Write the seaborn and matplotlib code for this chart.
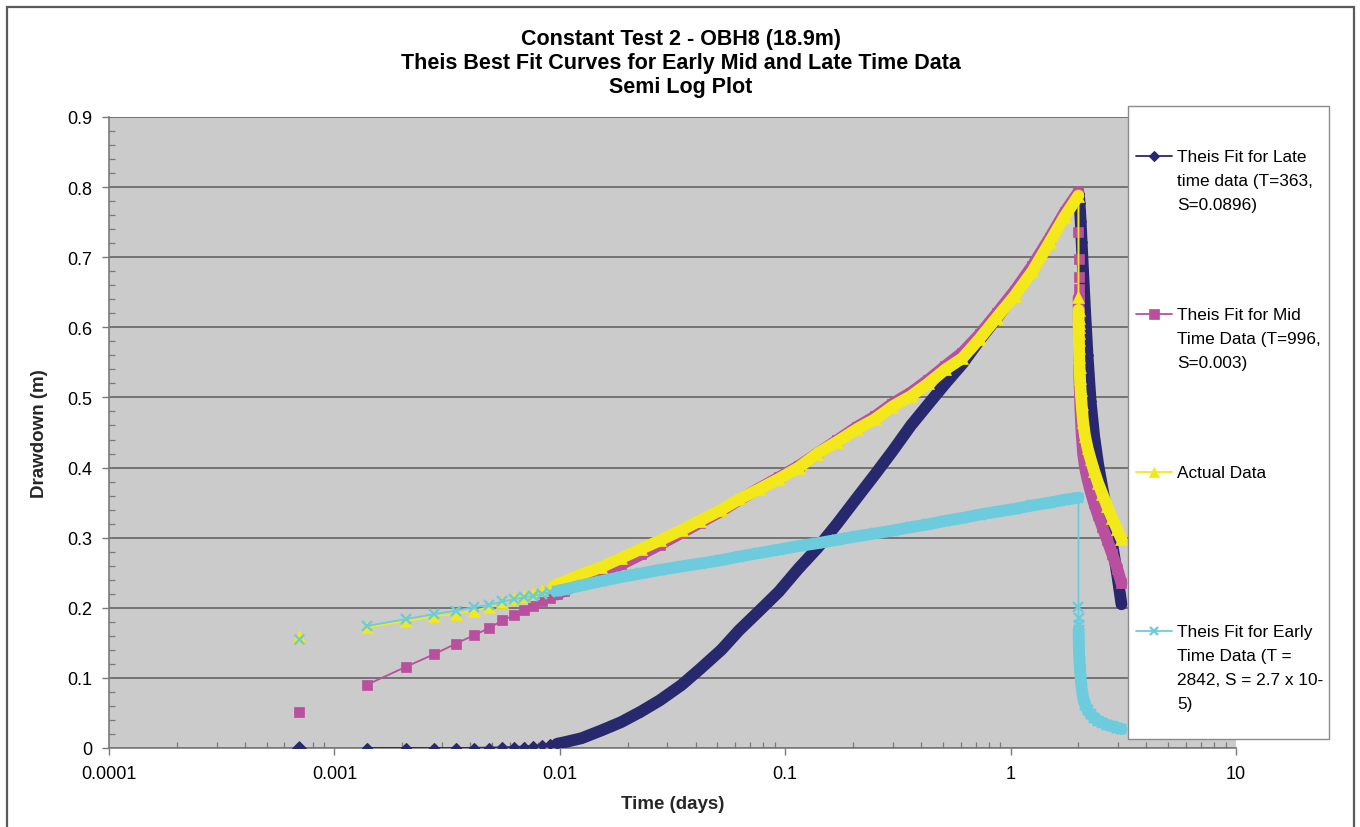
import numpy as np
import pandas as pd
import matplotlib
matplotlib.use("Agg")
import matplotlib.pyplot as plt
import matplotlib.ticker as mticker
from matplotlib.lines import Line2D
from matplotlib.patches import Rectangle
import seaborn as sns

# Elapsed time since pumping began (minutes). Pumping stopped at 2880 min (2 days).
pump_minutes = [1, 2, 3, 4, 5, 6, 7, 8, 9, 10, 11, 12, 13, 14, 15, 18, 22, 27, 33, 40,
                50, 60, 75, 90, 110, 135, 165, 200, 245, 300, 360, 430, 520, 620, 740,
                880, 1050, 1250, 1500, 1800, 2150, 2500, 2880]
recovery_minutes = [2881, 2882, 2883, 2884, 2885, 2887, 2890, 2895, 2902, 2912, 2925,
                    2945, 2975, 3020, 3080, 3160, 3260, 3380, 3520, 3680, 3860, 4060,
                    4280, 4470]

# Drawdown (m): Theis fit for late time data (T=363, S=0.0896)
late_pump = [0.000, 0.000, 0.000, 0.000, 0.000, 0.0003, 0.0006, 0.001, 0.0015, 0.002,
             0.003, 0.004, 0.005, 0.006, 0.008, 0.014, 0.025, 0.037, 0.052, 0.068,
             0.090, 0.112, 0.140, 0.168, 0.195, 0.223, 0.256, 0.285, 0.320, 0.357,
             0.390, 0.423, 0.460, 0.490, 0.520, 0.548, 0.582, 0.613, 0.648, 0.684,
             0.725, 0.761, 0.790]
late_recovery = [0.790, 0.790, 0.790, 0.790, 0.790, 0.789, 0.789, 0.787, 0.784, 0.778,
                 0.768, 0.752, 0.722, 0.680, 0.625, 0.560, 0.495, 0.445, 0.405, 0.370,
                 0.333, 0.292, 0.247, 0.205]

# Theis fit for mid time data (T=996, S=0.003)
mid_pump = [0.052, 0.090, 0.116, 0.134, 0.149, 0.161, 0.171, 0.182, 0.189, 0.197,
            0.203, 0.209, 0.214, 0.219, 0.224, 0.236, 0.248, 0.262, 0.276, 0.290,
            0.307, 0.321, 0.338, 0.354, 0.370, 0.386, 0.402, 0.420, 0.439, 0.458,
            0.473, 0.491, 0.507, 0.525, 0.545, 0.564, 0.590, 0.620, 0.652, 0.688,
            0.728, 0.764, 0.793]
mid_recovery = [0.736, 0.698, 0.672, 0.655, 0.642, 0.622, 0.598, 0.572, 0.548, 0.524,
                0.502, 0.476, 0.448, 0.420, 0.400, 0.383, 0.366, 0.349, 0.332, 0.315,
                0.297, 0.277, 0.256, 0.235]

# Measured drawdown
actual_pump = [0.160, 0.172, 0.181, 0.188, 0.191, 0.196, 0.201, 0.208, 0.214, 0.217,
               0.221, 0.226, 0.231, 0.234, 0.237, 0.248, 0.258, 0.271, 0.284, 0.296,
               0.311, 0.324, 0.340, 0.355, 0.369, 0.384, 0.400, 0.420, 0.437, 0.455,
               0.469, 0.487, 0.502, 0.520, 0.540, 0.556, 0.584, 0.614, 0.645, 0.680,
               0.722, 0.758, 0.788]
actual_recovery = [0.643, 0.625, 0.614, 0.606, 0.600, 0.592, 0.582, 0.570, 0.557, 0.543,
                   0.528, 0.510, 0.490, 0.465, 0.445, 0.428, 0.412, 0.395, 0.378, 0.362,
                   0.345, 0.328, 0.312, 0.298]

# Theis fit for early time data (T=2842, S=2.7e-5)
early_pump = [0.155, 0.174, 0.184, 0.191, 0.196, 0.201, 0.204, 0.209, 0.212, 0.215,
              0.217, 0.220, 0.222, 0.224, 0.226, 0.232, 0.238, 0.244, 0.249, 0.254,
              0.259, 0.263, 0.268, 0.273, 0.278, 0.283, 0.288, 0.292, 0.297, 0.302,
              0.306, 0.310, 0.315, 0.319, 0.324, 0.328, 0.333, 0.337, 0.341, 0.346,
              0.350, 0.354, 0.357]
early_recovery = [0.201, 0.186, 0.176, 0.169, 0.163, 0.155, 0.147, 0.140, 0.132, 0.123,
                  0.113, 0.100, 0.085, 0.072, 0.062, 0.054, 0.048, 0.043, 0.039, 0.036,
                  0.033, 0.031, 0.029, 0.027]

x_ticks = [0.0001, 0.001, 0.01, 0.1, 1, 10]

series_labels = [
    "Theis Fit for Late\ntime data (T=363,\nS=0.0896)",
    "Theis Fit for Mid\nTime Data (T=996,\nS=0.003)",
    "Actual Data",
    "Theis Fit for Early\nTime Data (T =\n2842, S = 2.7 x 10-\n5)",
]

NAVY, PINK, YELLOW, CYAN = "#28286f", "#b9509f", "#f2e81a", "#6ccbdc"
BG, GRID = "#cbcbcb", "#5c5c5c"

W, H = 1360, 828


def fx(px):
    return px / W


def fy(py):
    return 1 - py / H


def make_frame(pump_vals, rec_vals):
    minutes = np.array(pump_minutes + recovery_minutes, dtype=float)
    return pd.DataFrame({"minutes": minutes,
                         "days": minutes / 1440.0,
                         "drawdown": pump_vals + rec_vals})


series = [
    dict(df=make_frame(late_pump, late_recovery), color=NAVY, marker="D", ms=5.4, mew=0.8,
         bands=[(14, 4470)], z=3),
    dict(df=make_frame(mid_pump, mid_recovery), color=PINK, marker="s", ms=7.6, mew=0.5,
         bands=[(14, 2880), (2885, 4470)], z=4),
    dict(df=make_frame(actual_pump, actual_recovery), color=YELLOW, marker="^", ms=8.4, mew=0.5,
         bands=[(14, 2880), (2882, 4470)], z=5),
    dict(df=make_frame(early_pump, early_recovery), color=CYAN, marker="x", ms=7.0, mew=1.7,
         bands=[(14, 2880), (2884, 4470)], z=6),
]

sns.set_theme(style="white")
plt.rcParams["font.family"] = ["Liberation Sans", "DejaVu Sans"]

fig = plt.figure(figsize=(W / 100, H / 100), dpi=100)
fig.patch.set_facecolor("white")
ax = fig.add_axes([fx(109), fy(749), fx(1236) - fx(109), fy(118) - fy(749)])
ax.set_facecolor(BG)

for s in series:
    df, c = s["df"], s["color"]
    first, rest = df.iloc[:1], df.iloc[1:]
    # first reading stands on its own, not joined to the rest
    sns.scatterplot(data=first, x="days", y="drawdown", ax=ax, marker=s["marker"],
                    s=s["ms"] ** 2 * (1.6 if s["marker"] == "D" else 1.0), color=c,
                    edgecolor=c, linewidth=s["mew"], zorder=s["z"], legend=False)
    sns.lineplot(data=rest, x="days", y="drawdown", ax=ax, color=c, linewidth=1.3,
                 marker=s["marker"], markersize=s["ms"], markeredgecolor=c,
                 markerfacecolor=c, markeredgewidth=s["mew"], estimator=None,
                 sort=False, zorder=s["z"], legend=False)
    # closely spaced readings merge into a continuous band
    for lo, hi in s["bands"]:
        seg = df[(df["minutes"] >= lo) & (df["minutes"] <= hi)]
        sns.lineplot(data=seg, x="days", y="drawdown", ax=ax, color=c, linewidth=8.5,
                     estimator=None, sort=False, zorder=s["z"], legend=False,
                     solid_capstyle="round", solid_joinstyle="round")

ax.set_xscale("log")
ax.set_xlim(x_ticks[0], x_ticks[-1])
ax.set_ylim(0, 0.9)
ax.xaxis.set_major_locator(mticker.FixedLocator(x_ticks))
ax.xaxis.set_minor_locator(mticker.LogLocator(base=10, subs=np.arange(2, 10), numticks=100))
ax.xaxis.set_major_formatter(mticker.FuncFormatter(lambda v, _: f"{v:g}"))
ax.xaxis.set_minor_formatter(mticker.NullFormatter())
ax.yaxis.set_major_locator(mticker.MultipleLocator(0.1))
ax.yaxis.set_minor_locator(mticker.MultipleLocator(0.02))
ax.yaxis.set_major_formatter(mticker.FuncFormatter(lambda v, _: f"{round(v, 1):g}"))

ax.set_axisbelow(True)
ax.yaxis.grid(True, which="major", color=GRID, linewidth=1.1)
ax.xaxis.grid(False)
ax.set_xlabel("")
ax.set_ylabel("")
for side in ("top", "right"):
    ax.spines[side].set_visible(False)
for side in ("left", "bottom"):
    ax.spines[side].set_color("#7a7a7a")
    ax.spines[side].set_linewidth(1.2)
ax.tick_params(which="major", direction="out", length=5, width=1.0, color="#7a7a7a",
               labelsize=13, labelcolor="black")
ax.tick_params(axis="y", which="major", pad=7)
ax.tick_params(axis="x", which="major", pad=7)
ax.tick_params(which="minor", direction="in", length=4, width=0.9, color="#7a7a7a")
ax.tick_params(left=True, bottom=True, which="both")

# titles and axis labels
title_lines = ["Constant Test 2 - OBH8 (18.9m)",
               "Theis Best Fit Curves for Early Mid and Late Time Data",
               "Semi Log Plot"]
for line, py in zip(title_lines, (40, 64, 88)):
    fig.text(fx(681), fy(py), line, ha="center", va="center", fontsize=15.5,
             fontweight="bold", color="black")
fig.text(fx(40), fy(434), "Drawdown (m)", rotation=90, ha="center", va="center",
         fontsize=13.5, fontweight="bold")
fig.text(fx(673), fy(805), "Time (days)", ha="center", va="center",
         fontsize=13.5, fontweight="bold")

# outer chart frame
fig.add_artist(Rectangle((fx(7), -0.02), fx(1354) - fx(7), fy(8) + 0.02,
                         transform=fig.transFigure, fill=False, edgecolor="#5a5a5a",
                         linewidth=1.6, zorder=0))

# legend panel
fig.add_artist(Rectangle((fx(1128), fy(740)), fx(1329) - fx(1128), fy(107) - fy(740),
                         transform=fig.transFigure, facecolor="white",
                         edgecolor="#8a8a8a", linewidth=1.0, zorder=10))
for s, label, py in zip(series, series_labels, (157, 315, 473, 632)):
    c = s["color"]
    fig.add_artist(Line2D([fx(1136), fx(1172)], [fy(py), fy(py)], color=c,
                          linewidth=1.3, transform=fig.transFigure, zorder=11))
    fig.add_artist(Line2D([fx(1154)], [fy(py)], color=c, marker=s["marker"],
                          markersize=s["ms"] * 0.9, markeredgecolor=c, markerfacecolor=c,
                          markeredgewidth=s["mew"], transform=fig.transFigure, zorder=12))
    fig.text(fx(1177), fy(py - 6.5), label, ha="left", va="top", fontsize=12.4,
             linespacing=1.74, color="black", zorder=12)

fig.savefig("out.png", dpi=100, facecolor="white")
